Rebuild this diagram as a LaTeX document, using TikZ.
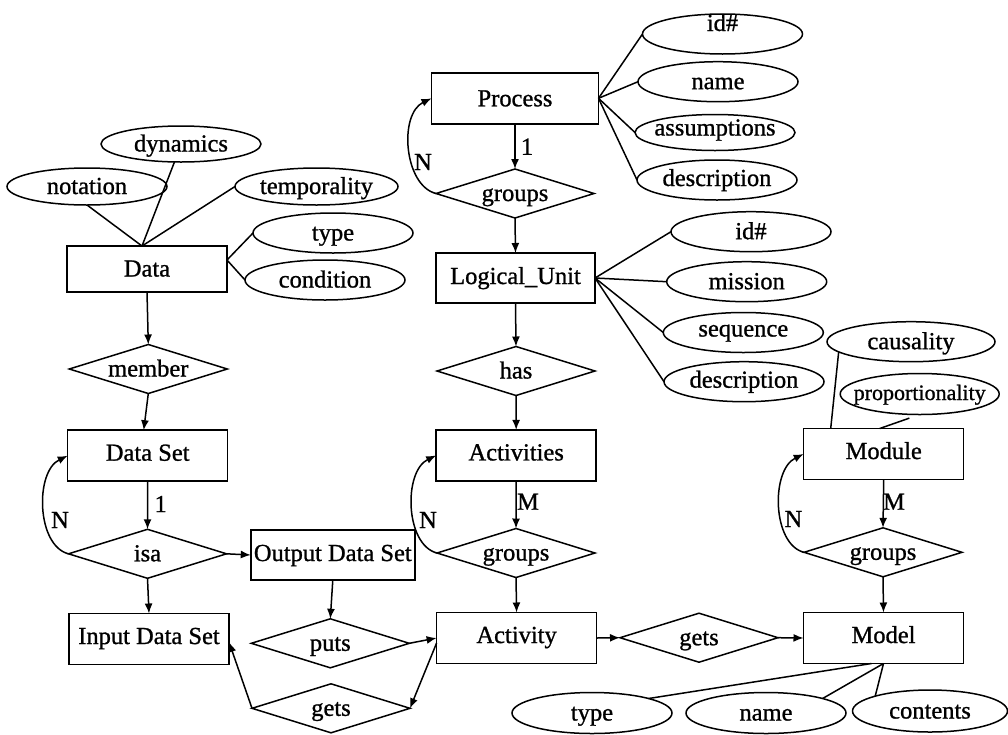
\documentclass[tikz,border=0pt]{standalone}
\usepackage{fontspec}
\setmainfont{Liberation Serif}[FakeBold=1]
\usetikzlibrary{shapes.geometric,arrows.meta,calc}
% zero-size label so that every shape keeps the size given by its style;
% the optional argument sets how far the baseline sits below the centre
\newcommand\lbl[2][7.5pt]{\smash{\makebox[0pt]{\raisebox{-#1}{#2}}}}

\begin{document}
\begin{tikzpicture}[x=1pt,y=-1pt,
  every node/.style={inner sep=0pt, outer sep=0pt, font=\fontsize{24.5}{29}\selectfont},
  ent/.style={draw, line width=1.5pt, rectangle, minimum width=160pt, minimum height=51pt},
  rel/.style={draw, line width=1.5pt, diamond, minimum width=158pt, minimum height=49pt},
  attr/.style={draw, line width=1.5pt, ellipse, minimum width=160pt, minimum height=40pt},
  link/.style={line width=1.5pt},
  arr/.style={line width=1.5pt, -{Latex[length=10pt,width=8pt]}},
  loop/.style={arr},
]
\useasboundingbox (0,0) rectangle (1008,734);

% ---------------- entities ----------------
\node[ent, minimum height=46pt] (data) at (147,269) {\lbl{Data}};
\node[ent] (ds)    at (147.7,455.7) {\lbl[5pt]{Data Set}};
\node[ent] (inp)   at (149,639)     {\lbl[5pt]{Input Data Set}};
\node[ent, minimum width=164pt, minimum height=50pt] (out) at (332.8,555) {\lbl[6pt]{Output Data Set}};
\node[ent, minimum width=167pt, minimum height=51pt] (proc) at (515,98.3) {\lbl[8pt]{Process}};
\node[ent, minimum width=159pt, minimum height=50pt] (lu) at (515.5,278) {\lbl[6pt]{Logical\_Unit}};
\node[ent] (acts)  at (516.2,455.4) {\lbl[5pt]{Activities}};
\node[ent] (act)   at (516.6,638)   {\lbl[5pt]{Activity}};
\node[ent] (mod)   at (883.7,454)   {\lbl[5pt]{Module}};
\node[ent] (model) at (883.5,638)   {\lbl[5pt]{Model}};

% ---------------- relationships ----------------
\node[rel] (member) at (148.3,369)   {\lbl{member}};
\node[rel] (isa)    at (147.5,553.8) {\lbl{isa}};
\node[rel] (g1)     at (515,193.5)   {\lbl{groups}};
\node[rel] (has)    at (516,371)     {\lbl{has}};
\node[rel] (g2)     at (516,553)     {\lbl{groups}};
\node[rel] (g3)     at (883,552.3)   {\lbl{groups}};
\node[rel] (puts)   at (330.3,643.3) {\lbl{puts}};
\node[rel] (gets2)  at (331,708.3)   {\lbl{gets}};
\node[rel] (gets1)  at (699,637.7)   {\lbl{gets}};

% ---------------- attributes ----------------
\node[attr, minimum height=37pt] (notation)    at (87,186.5)  {\lbl{notation}};
\node[attr, minimum height=36pt] (dynamics)    at (181,144)   {\lbl{dynamics}};
\node[attr, minimum width=163pt, minimum height=37pt] (temporality) at (316.5,186.5) {\lbl{temporality}};
\node[attr] (dtype) at (333,233) {\lbl{type}};
\node[attr] (dcond) at (325,280) {\lbl{condition}};

\node[attr] (pid)     at (722.5,34)  {\lbl[-3pt]{id\#}};
\node[attr] (pname)   at (718,81.7)  {\lbl{name}};
\node[attr, minimum height=36pt] (passump) at (715,132.5) {\lbl[3pt]{assumptions}};
\node[attr] (pdesc)   at (717,180)   {\lbl[6pt]{description}};

\node[attr] (lid)  at (751,231.7)   {\lbl{id\#}};
\node[attr] (lmis) at (746.7,281.7) {\lbl{mission}};
\node[attr] (lseq) at (743.3,332.5) {\lbl[4pt]{sequence}};
\node[attr] (ldes) at (744,381.7)   {\lbl[6pt]{description}};

\node[attr, minimum width=168pt] (caus) at (911,341.7) {\lbl{causality}};
\node[attr, minimum width=159pt, minimum height=41pt] (prop) at (919.7,394)
  {\fontsize{22}{26}\selectfont\lbl[6pt]{proportionality}};

\node[attr, minimum height=41pt] (mtype) at (592,713) {\lbl{type}};
\node[attr, minimum height=41pt] (mname) at (766,713) {\lbl{name}};
\node[attr, minimum width=155pt, minimum height=42pt] (mcont) at (930,711) {\lbl{contents}};

% ---------------- attribute links ----------------
\coordinate (dhub) at ($(data.north)+(-5,0)$);
\draw[link] (dhub) -- (notation.south);
\draw[link] (dhub) -- (dynamics.-110);
\draw[link] (dhub) -- (temporality.west);
\draw[link] ($(data.east)+(0,-9)$) -- (dtype.west);
\draw[link] ($(data.east)+(0,-9)$) -- (dcond.west);

\foreach \a in {pid,pname,passump,pdesc} \draw[link] (proc.east) -- (\a.west);
\foreach \a in {lid,lmis,lseq,ldes} \draw[link] (lu.east) -- (\a.west);

\draw[link] ($(mod.north west)+(27,0)$) -- (caus.188);
\draw[link, shorten >=11pt] ($(mod.north)+(-4,0)$) -- (prop.south);

\draw[link] ($(model.south)+(-12,0)$) -- (mtype.north east);
\draw[link] (model.south) -- (mname.north east);
\draw[link] (model.south) -- (mcont.north west);

% ---------------- relationship arrows ----------------
\draw[arr] (data.south) -- (member.north);
\draw[arr] (member.south) -- ($(ds.north)+(-4,0)$);
\draw[arr] (ds.south) -- (isa.north);
\draw[arr] (isa.east) -- (out.west);
\draw[arr] (isa.south) -- (inp.north);
\draw[arr] (out.south) -- (puts.north);
\draw[arr] (puts.east) -- (act.west);
\draw[arr] ($(act.west)+(0,5)$) -- (gets2.east);
\draw[arr] (gets2.west) -- ($(inp.east)+(0,3)$);

\draw[arr] (proc.south) -- (g1.north);
\draw[arr] (g1.south) -- (lu.north);
\draw[arr] (lu.south) -- (has.north);
\draw[arr] (has.south) -- (acts.north);
\draw[arr] (acts.south) -- (g2.north);
\draw[arr] (g2.south) -- (act.north);
\draw[arr] (act.east) -- (gets1.west);
\draw[arr] (gets1.east) -- (model.west);
\draw[arr] (mod.south) -- (g3.north);
\draw[arr] (g3.south) -- (model.north);

% recursive links from each "groups"/"isa" back to its entity
\draw[loop] (g1.west)  .. controls +(-32,-8) and +(-33,16) .. (proc.west);
\draw[loop] (isa.west) .. controls +(-32,-8) and +(-33,16) .. (ds.west);
\draw[loop] (g2.west)  .. controls +(-32,-8) and +(-33,16) .. (acts.west);
\draw[loop] (g3.west)  .. controls +(-32,-8) and +(-33,16) .. (mod.west);

% ---------------- cardinalities ----------------
\node (c1) at (527,146.7) {1};
\node (c2) at (423,162)   {N};
\node (c3) at (160.7,504) {1};
\node (c4) at (60,520)    {N};
\node (c5) at (528,501.7) {M};
\node (c6) at (428,520)   {N};
\node (c7) at (894,501.7) {M};
\node (c8) at (793.4,519) {N};
\end{tikzpicture}
\end{document}
